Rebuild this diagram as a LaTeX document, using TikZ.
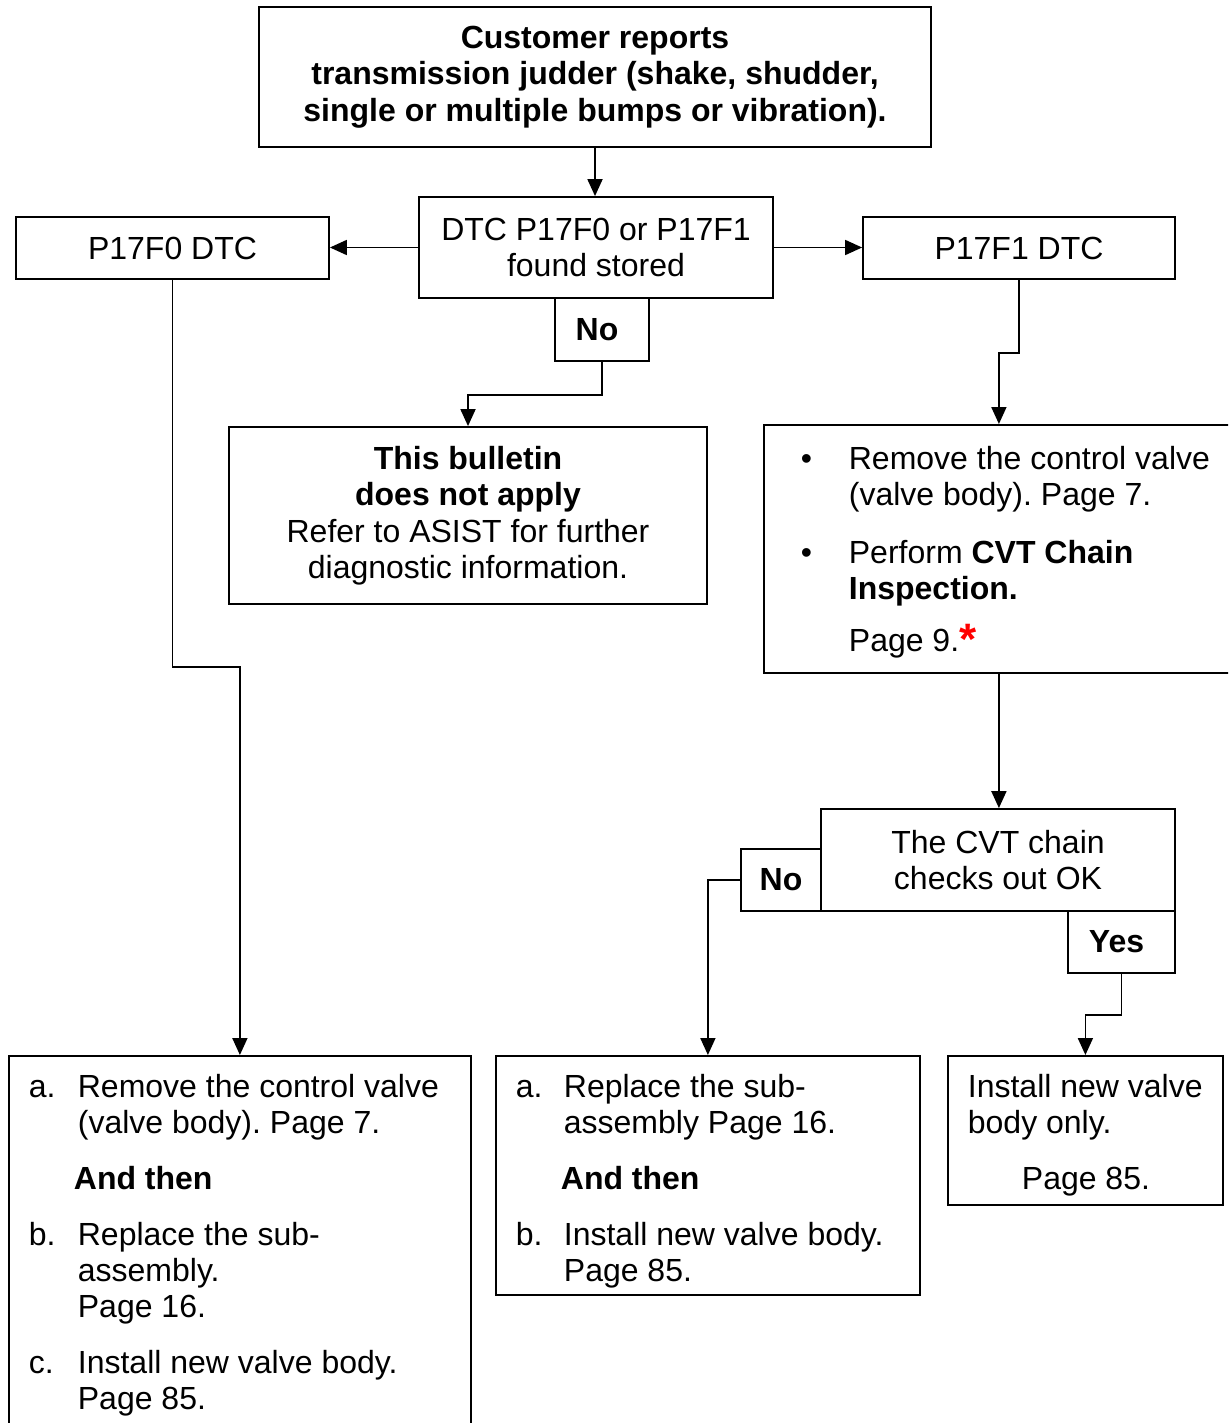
\documentclass[tikz,border=0pt]{standalone}
\usepackage{fontspec}
\setmainfont{Liberation Sans}
\usetikzlibrary{arrows.meta}

\newcommand{\basefont}{\fontsize{32}{36.5}\selectfont\frenchspacing}
\newcommand{\listfont}{\fontsize{32}{36}\selectfont\frenchspacing}
\newcommand{\redstar}{{\color{red}\fontsize{44}{44}\selectfont\bfseries\raisebox{-3pt}{*}}}

\begin{document}
\begin{tikzpicture}[x=1pt,y=1pt,yscale=-1,
  box/.style={draw, line width=1.8pt, inner sep=0pt, align=center, font=\basefont},
  tag/.style={box, font=\basefont\bfseries},
  pane/.style={draw, line width=1.8pt, inner sep=0pt, anchor=north west, font=\basefont},
  link/.style={line width=1.8pt, -{Triangle[length=17pt,width=15pt]}}]
\useasboundingbox (0,0) rectangle (1228,1423);
\clip (0,0) rectangle (1228,1423);

% top of the chart
\node[tag, minimum width=672pt, minimum height=140pt] (report) at (595,77)
  {Customer reports\\transmission judder (shake, shudder,\\single or multiple bumps or vibration).};
\node[box, minimum width=354pt, minimum height=101pt] (found) at (596,247.5)
  {DTC P17F0 or P17F1\\found stored};
\node[box, minimum width=313pt, minimum height=62pt] (dtca) at (172.5,248) {P17F0 DTC};
\node[box, minimum width=312pt, minimum height=62pt] (dtcb) at (1019,248) {P17F1 DTC};
\node[tag, minimum width=94pt, minimum height=63pt] (noa) at (602,329.5) {No\hspace*{10pt}};
\node[box, minimum width=478pt, minimum height=177pt] (bulletin) at (468,515.5)
  {\textbf{This bulletin}\\\textbf{does not apply}\\Refer to ASIST for further\\diagnostic information.};

% P17F1 branch
\node[pane] (steps) at (763,424) {\begin{minipage}[c][248pt][t]{470pt}\listfont
\rule{0pt}{44.5pt}\hspace*{37pt}\makebox[48pt][l]{\textbullet}Remove the control valve\\
\hspace*{85pt}(valve body). Page 7.\\[22pt]
\hspace*{37pt}\makebox[48pt][l]{\textbullet}Perform \textbf{CVT Chain}\\
\hspace*{85pt}\textbf{Inspection.}\\[16pt]
\hspace*{85pt}Page 9.\redstar
\end{minipage}};
\node[box, minimum width=354pt, minimum height=102pt] (check) at (998,860)
  {The CVT chain\\checks out OK};
\node[tag, minimum width=80pt, minimum height=62pt] (nob) at (781,880) {No};
\node[tag, minimum width=107pt, minimum height=62pt] (yes) at (1121.5,942) {Yes\hspace*{10pt}};

% bottom row
\node[pane] (fixa) at (8,1055) {\begin{minipage}[c][400pt][t]{462pt}\listfont
\rule{0pt}{42pt}\hspace*{20pt}\makebox[49pt][l]{a.}Remove the control valve\\
\hspace*{69pt}(valve body). Page 7.\\[20pt]
\hspace*{65pt}\textbf{And then}\\[20pt]
\hspace*{20pt}\makebox[49pt][l]{b.}Replace the sub-\\
\hspace*{69pt}assembly.\\
\hspace*{69pt}Page 16.\\[20pt]
\hspace*{20pt}\makebox[49pt][l]{c.}Install new valve body.\\
\hspace*{69pt}Page 85.
\end{minipage}};
\node[pane] (fixb) at (495,1055) {\begin{minipage}[c][239pt][t]{424pt}\listfont
\rule{0pt}{42pt}\hspace*{20pt}\makebox[48pt][l]{a.}Replace the sub-\\
\hspace*{68pt}assembly Page 16.\\[20pt]
\hspace*{65pt}\textbf{And then}\\[20pt]
\hspace*{20pt}\makebox[48pt][l]{b.}Install new valve body.\\
\hspace*{68pt}Page 85.
\end{minipage}};
\node[pane] (fixc) at (947,1055) {\begin{minipage}[c][149pt][t]{275pt}\listfont
\rule{0pt}{42pt}\hspace*{20pt}Install new valve\\
\hspace*{20pt}body only.\\[20pt]
\hspace*{74pt}Page 85.
\end{minipage}};

% connectors
\draw[link] (report.south) -- (report.south |- found.north);
\draw[link] (found.west) -- (found.west -| dtca.east);
\draw[link] (found.east) -- (found.east -| dtcb.west);
\draw[link] (noa.south) -- ++(0,33) -| (bulletin.north);
\draw[link] (dtcb.south) -- ++(0,73) -| (steps.north);
\draw[link] (steps.south) -- (steps.south |- check.north);
\draw[link] (nob.west) -| (fixb.north);
\draw[link] (yes.south) -- ++(0,41) -| (fixc.north);
\draw[link] (dtca.south) -- ++(0,387) -| (fixa.north);

\end{tikzpicture}
\end{document}
